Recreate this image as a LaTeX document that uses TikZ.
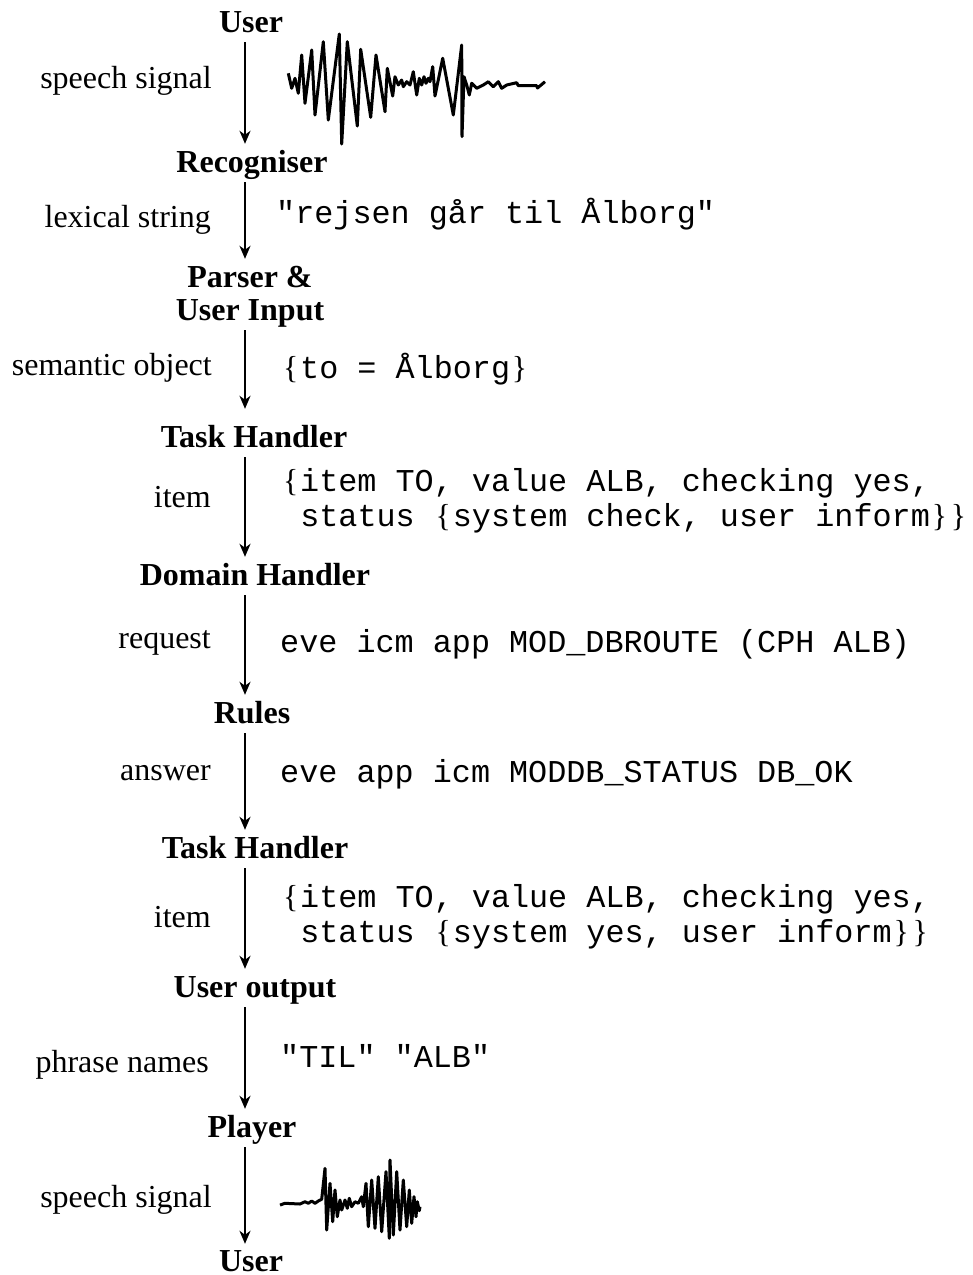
\documentclass[tikz,border=0pt]{standalone}
\usepackage{fontspec}
\setmainfont{Liberation Serif}
\setmonofont{Liberation Mono}
\usetikzlibrary{arrows.meta}
\newcommand{\lbr}{\makebox[19pt]{\rmfamily\{}}
\newcommand{\rbr}{\makebox[19pt]{\rmfamily\}}}
\frenchspacing

\begin{document}
\begin{tikzpicture}[x=1pt,y=-1pt,
  title/.style={font=\fontsize{32}{35}\selectfont\bfseries,anchor=base,text height=24pt,text depth=6pt,inner sep=4pt},
  lbl/.style={font=\fontsize{32}{35}\selectfont,anchor=base east,inner sep=0pt},
  code/.style={font=\fontsize{31.8}{35}\selectfont\ttfamily,anchor=base west,inner sep=0pt,align=left},
  flow/.style={-{Stealth[length=13pt,width=11pt,inset=4pt]},line width=2.5pt},
  wave/.style={line width=3pt,line join=round}]
\useasboundingbox (0,0) rectangle (973,1275);
\coordinate (axis) at (245,0);

\node[title] (user) at (251,32) {User};
\node[title] (recog) at (252,172) {Recogniser};
\node[title] (parser) at (250,287) {Parser \&};
\node[title] (input) at (250,320) {User Input};
\node[title] (taskA) at (254,447) {Task Handler};
\node[title] (domain) at (255,585) {Domain Handler};
\node[title] (rules) at (252,723) {Rules};
\node[title] (taskB) at (255,858) {Task Handler};
\node[title] (output) at (255,997) {User output};
\node[title] (player) at (252,1137) {Player};
\node[title,text depth=0pt,inner sep=3pt] (userB) at (251,1271) {User};

\foreach \a/\b in {user/recog,recog/parser,taskA/domain,domain/rules,rules/taskB,taskB/output,output/player,player/userB}
  \draw[flow] (\a.south -| axis) -- (\b.north -| axis);
\draw[flow,shorten >=10pt] (input.south -| axis) -- (taskA.north -| axis);

\node[lbl] (sigA) at (212,88) {speech signal};
\node[lbl] (lex) at (211,227) {lexical string};
\node[lbl] (sem) at (212,375) {semantic object};
\node[lbl] (itemA) at (211,507) {item};
\node[lbl] (req) at (211,648) {request};
\node[lbl] (ans) at (211,780) {answer};
\node[lbl] (itemB) at (211,927) {item};
\node[lbl] (phr) at (209,1072) {phrase names};
\node[lbl] (sigB) at (212,1207) {speech signal};

\node[code] (strA) at (276,223) {"rejsen går til Ålborg"};
\node[code] (objA) at (281,378) {\lbr to = Ålborg\rbr};
\node[code] (valA) at (281,526) {\lbr item TO, value ALB, checking yes,\\\ status \lbr system check, user inform\rbr\rbr};
\node[code] (reqA) at (280,652) {eve icm app MOD\_DBROUTE (CPH ALB)};
\node[code] (ansA) at (280,782) {eve app icm MODDB\_STATUS DB\_OK};
\node[code] (valB) at (281,942) {\lbr item TO, value ALB, checking yes,\\\ status \lbr system yes, user inform\rbr\rbr};
\node[code] (phrA) at (280,1067) {"TIL" "ALB"};

\draw[wave] plot coordinates {(288.3,73.3) (291.7,88.3) (295,78.3) (298.3,93.3) (301.7,55) (305,103.3)
  (311.7,50) (315,115) (323.3,41.7) (328.3,120) (339.3,34) (341.7,144) (347.3,41.7) (357.3,126)
  (360.7,49.3) (370.7,117.3) (376,55) (385,111.7) (387.3,68.3) (392.7,96) (395,76.7) (398.3,85)
  (401.7,80) (403.3,86.7) (406.7,81.7) (410,85) (413.3,71.7) (416.7,95) (419.3,78.3) (421.7,85)
  (424,76.7) (426,83.3) (428.3,78.3) (430,81.7) (432.7,66.7) (435,96) (442.7,58.3) (453.3,115)
  (461.7,45) (462,136.7) (464,76.7) (466.7,85) (469.3,95) (471.7,83.3) (476.7,88.3) (483.3,85)
  (488.3,81.7) (493.3,86.7) (498.3,81.7) (501.7,88.3) (506.7,85) (516.7,82.7) (518.3,85.7)
  (536.7,85.7) (537.5,88) (545,81.7)};
\draw[wave] plot coordinates {(280,1205) (285,1203.3) (300,1204) (305,1201.7) (308.3,1203.3)
  (311.7,1201) (315,1203.3) (318.3,1201) (321.7,1199.3) (325,1168.3) (326.7,1230) (330,1183.3)
  (332.7,1221.7) (335,1190) (337.3,1216.7) (340,1200) (341.7,1210) (345,1200) (347.3,1208.3)
  (349.3,1198.3) (351.7,1206.7) (355,1201.7) (358.3,1203.3) (361.7,1196.7) (363.3,1206.7)
  (366,1183.3) (368.3,1226.7) (371.7,1180) (375,1228.3) (378.3,1176.7) (381.7,1231.7) (386,1171.7)
  (389.3,1238.3) (390,1160) (393.3,1235) (396.7,1171.7) (400,1230) (403.3,1180) (406.7,1226.7)
  (409.3,1190) (411.7,1223.3) (414,1196.7) (416,1216.7) (417.3,1201.7) (419.3,1210.7) (420,1206.7)};
\end{tikzpicture}
\end{document}
